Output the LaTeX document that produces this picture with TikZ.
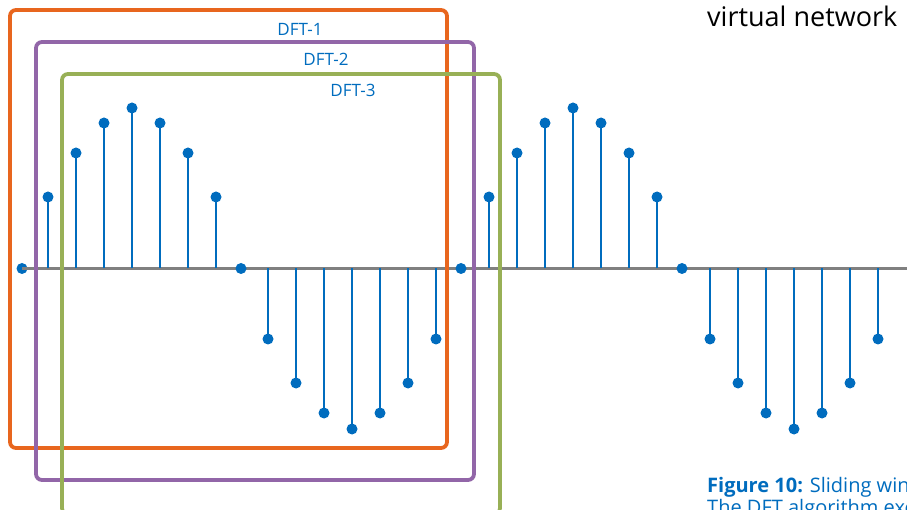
\documentclass[tikz,border=0pt]{standalone}
\usepackage{fontspec}
\setmainfont{Open Sans}
\definecolor{iblue}{RGB}{0,108,190}
\definecolor{iaxis}{RGB}{128,128,128}
\definecolor{iorange}{RGB}{232,102,30}
\definecolor{ipurple}{RGB}{146,102,168}
\definecolor{igreen}{RGB}{152,176,86}
\tikzset{
  axisline/.style={draw=iaxis,line width=3.5pt},
  stemline/.style={draw=iblue,line width=2.7pt},
  dotnode/.style={circle,fill=iblue,inner sep=0pt,minimum size=11pt},
  winbox/.style={line width=3.8pt,rounded corners=6pt},
  winlabel/.style={text=iblue,font=\fontsize{17}{19}\selectfont,inner sep=0pt},
  captext/.style={anchor=base west,inner sep=0pt,text=iblue,font=\fontsize{20}{22}\selectfont}
}
\begin{document}
\begin{tikzpicture}[x=1pt,y=-1pt]
\useasboundingbox (0,0) rectangle (907,510);
\clip (0,0) rectangle (907,510);
% axis
\coordinate (axend) at (912,268.5);
\node[dotnode] (z0) at (22,268.5) {};
\draw[axisline] (z0.center) -- (axend);
% zero samples
\foreach \n/\x in {1/241,2/461,3/682}{
  \node[dotnode] (z\n) at (\x,268.5) {};
}
% nonzero samples
\foreach \n/\x/\y in {
  a1/48/197, a2/76/153, a3/104/123, a4/132/108, a5/160/123, a6/188/153, a7/216/197,
  b1/268/339, b2/296/383, b3/324/413, b4/352/429, b5/380/413, b6/408/383, b7/436/339,
  c1/489/197, c2/517/153, c3/545/123, c4/573/108, c5/601/123, c6/629/153, c7/657/197,
  d1/710/339, d2/738/383, d3/766/413, d4/794/429, d5/822/413, d6/850/383, d7/878/339}{
  \coordinate (base\n) at (\x,268.5);
  \node[dotnode] (s\n) at (\x,\y) {};
  \draw[stemline] (base\n) -- (s\n.center);
}
% windows
\draw[winbox,draw=iorange] (10,10) rectangle (447,448);
\draw[winbox,draw=ipurple] (36,42) rectangle (474,480);
\draw[winbox,draw=igreen] (62,74) rectangle (500,514);
\node[winlabel] (l1) at (300,29) {DFT-1};
\node[winlabel] (l2) at (326,59.5) {DFT-2};
\node[winlabel] (l3) at (353,90.5) {DFT-3};
% surrounding text
\node[anchor=base west,inner sep=0pt,font=\fontsize{27}{30}\selectfont] (vn) at (707,27) {virtual network};
\node[captext] (cap1) at (707,492) {\textbf{Figure 10:} Sliding window};
\node[captext] (cap2) at (707,514) {The DFT algorithm executes};
\end{tikzpicture}
\end{document}
